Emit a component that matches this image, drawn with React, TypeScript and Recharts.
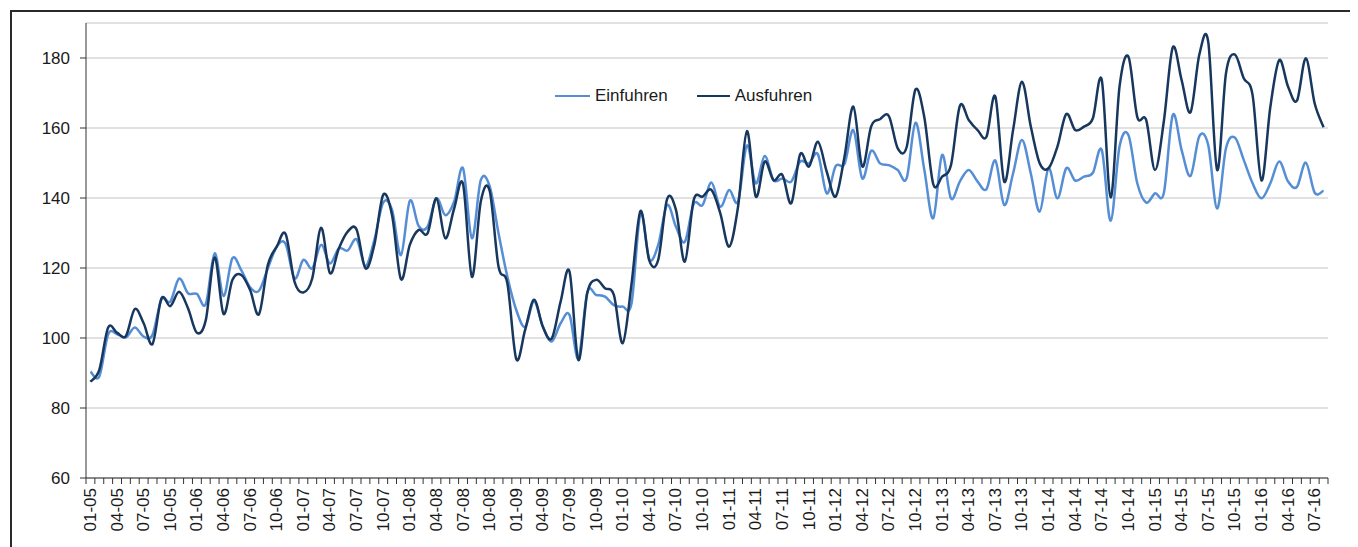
import React from 'react';
import { LineChart, Line, XAxis, YAxis, CartesianGrid } from 'recharts';

// monthly index values, 01-05 .. 08-16
const einfuhren = [
  90.4, 89, 101.1, 101.1, 100.2, 103, 100.4, 100.9, 111, 110.4, 117, 112.8,
  112.6, 109.7, 124.2, 112, 122.8, 119.4, 114.5, 113.5, 119.9, 126.1, 126.9, 117,
  122.3, 119.9, 126.6, 121.3, 125.6, 125, 128.2, 120.6, 128, 138.7, 136.6, 123.7,
  139.2, 132, 131.8, 139.9, 135.1, 139, 148.5, 128.5, 145.1, 143.4, 129.9, 117.5,
  108, 103.2, 110.4, 103.2, 99, 104.2, 106.6, 94.2, 113, 112.3, 111.8, 109.4,
  109, 110, 135.6, 122.5, 126.6, 138, 131.8, 127.5, 138.3, 138, 144.4, 137.5,
  142.3, 139, 155, 144.2, 152, 145.1, 145.6, 144.7, 150.4, 149.9, 152.5, 141.3,
  149.1, 149.7, 159.4, 145.6, 153.5, 149.9, 149.4, 148, 145.6, 161.5, 148, 134.2,
  152.3, 139.9, 144.7, 148, 144.7, 142.5, 150.7, 138, 147, 156.6, 147, 136.1,
  148.5, 139.9, 148.5, 145, 146.1, 147.2, 153.7, 133.5, 154.7, 158, 144.2, 138.7,
  141.3, 141.5, 163.7, 153.7, 146.3, 157.7, 155.1, 137, 154.2, 157.3, 150.9, 144.2,
  139.9, 144.2, 150.4, 144.7, 143.2, 150.1, 141.5, 142.1,
];

const ausfuhren = [
  87.5, 90.9, 103, 101.5, 100.6, 108.3, 104.2, 98.3, 111.3, 109.1, 113.2, 108.5,
  101.5, 105.1, 123, 106.9, 116.6, 118, 113.7, 106.8, 120.9, 126.1, 129.7, 116.1,
  113, 117, 131.5, 118.5, 125.6, 130.4, 131, 119.9, 126.6, 140.9, 135.1, 116.8,
  126.6, 130.9, 129.9, 139.9, 128.5, 137, 144, 117.5, 139, 142.1, 120.4, 115.6,
  94, 102.3, 110.9, 103.2, 99.9, 110.4, 119, 93.7, 112.8, 116.6, 114.2, 112.3,
  98.5, 115.6, 136.3, 122.1, 122.3, 139.7, 136.6, 121.8, 139.4, 140.4, 142.3, 135.6,
  126.1, 137.5, 159.1, 140.4, 150.4, 145.1, 146.6, 138.5, 152.5, 149, 156.1, 147.5,
  140.4, 151.8, 166.1, 149, 160.4, 162.5, 163.4, 154.2, 154.5, 171, 163, 144,
  146.1, 149.4, 166.3, 162.3, 159.4, 157.5, 169, 144.7, 159.4, 173.2, 160.4, 149.9,
  148.5, 154.7, 164, 159.4, 160.4, 162.8, 173.7, 140.2, 171.8, 180.4, 163.2, 162.3,
  148, 162, 183, 173.7, 164.5, 181, 184.6, 148, 175.6, 181, 174.2, 169.4,
  145, 166, 179.4, 171.8, 167.8, 179.9, 167, 160.2,
];

// one label every third month
const tickLabels = [
  '01-05', '04-05', '07-05', '10-05', '01-06', '04-06', '07-06', '10-06',
  '01-07', '04-07', '07-07', '10-07', '01-08', '04-08', '07-08', '10-08',
  '01-09', '04-09', '07-09', '10-09', '01-10', '04-10', '07-10', '10-10',
  '01-11', '04-11', '07-11', '10-11', '01-12', '04-12', '07-12', '10-12',
  '01-13', '04-13', '07-13', '10-13', '01-14', '04-14', '07-14', '10-14',
  '01-15', '04-15', '07-15', '10-15', '01-16', '04-16', '07-16',
];

const yTicks = [60, 80, 100, 120, 140, 160, 180];

const W = 1350;
const H = 539;
const margin = { top: 15, right: 30, left: 0, bottom: 0 };
const yAxisWidth = 78;
const nMonths = einfuhren.length;
const halfStep = (W - margin.left - margin.right - yAxisWidth) / nMonths / 2;

const data = einfuhren.map((v, i) => ({ x: i + 0.5, einfuhren: v, ausfuhren: ausfuhren[i] }));
const monthTicks = Array.from({ length: nMonths + 1 }, (_, i) => i);

const font = '"Liberation Sans", Arial, sans-serif';

// Excel-like smoothed line (Catmull-Rom through the points)
const excelSmooth = (context: any) => {
  let pts: number[][] = [];
  return {
    areaStart() {},
    areaEnd() {},
    lineStart() {
      pts = [];
    },
    point(x: number, y: number) {
      pts.push([+x, +y]);
    },
    lineEnd() {
      const n = pts.length;
      if (!n) return;
      context.moveTo(pts[0][0], pts[0][1]);
      for (let i = 0; i < n - 1; i++) {
        const p0 = pts[Math.max(i - 1, 0)];
        const p1 = pts[i];
        const p2 = pts[i + 1];
        const p3 = pts[Math.min(i + 2, n - 1)];
        context.bezierCurveTo(
          p1[0] + (p2[0] - p0[0]) / 6,
          p1[1] + (p2[1] - p0[1]) / 6,
          p2[0] - (p3[0] - p1[0]) / 6,
          p2[1] - (p3[1] - p1[1]) / 6,
          p2[0],
          p2[1]
        );
      }
    },
  };
};

const MonthTick = (props: any) => {
  const { x, y, payload } = props;
  const v = payload.value;
  if (v % 3 !== 0 || v / 3 >= tickLabels.length) return <g />;
  const cx = x + halfStep;
  const ty = y + 2;
  return (
    <text
      x={cx}
      y={ty}
      transform={`rotate(-90, ${cx}, ${ty})`}
      textAnchor="end"
      dominantBaseline="central"
      fontFamily={font}
      fontSize={17}
      fill="#1a1a1a"
    >
      {tickLabels[v / 3]}
    </text>
  );
};

const LegendBox = () => (
  <div
    style={{
      position: 'absolute',
      left: 547,
      top: 78,
      display: 'flex',
      alignItems: 'center',
      fontFamily: font,
      fontSize: 17,
      color: '#1a1a1a',
      lineHeight: '20px',
    }}
  >
    <span style={{ display: 'inline-block', width: 35, borderTop: '2.5px solid #558ED5', marginRight: 5 }} />
    <span>Einfuhren</span>
    <span style={{ display: 'inline-block', width: 33, borderTop: '2.5px solid #17375E', marginLeft: 29, marginRight: 5 }} />
    <span>Ausfuhren</span>
  </div>
);

const App = () => {
  return (
    <div style={{ position: 'relative', width: W, height: H }}>
      <div
        style={{
          position: 'absolute',
          left: 2,
          top: 2,
          width: W,
          height: H + 10,
          borderLeft: '2px solid #2a2a2a',
          borderTop: '2px solid #2a2a2a',
        }}
      />
      <LineChart width={W} height={H} data={data} margin={margin}>
        <CartesianGrid vertical={false} stroke="#c4c4c4" strokeWidth={1.2} />
        <XAxis
          type="number"
          dataKey="x"
          domain={[0, nMonths]}
          ticks={monthTicks}
          interval={0}
          height={69}
          tickSize={6}
          tick={<MonthTick />}
          axisLine={{ stroke: '#333' }}
          tickLine={{ stroke: '#333' }}
        />
        <YAxis
          domain={[60, 190]}
          ticks={yTicks}
          width={yAxisWidth}
          tickSize={6}
          tickMargin={10}
          axisLine={{ stroke: '#333' }}
          tickLine={{ stroke: '#333' }}
          tick={{ fontFamily: font, fontSize: 17, fill: '#1a1a1a' }}
        />
        <Line
          dataKey="einfuhren"
          type={excelSmooth as any}
          stroke="#558ED5"
          strokeWidth={2.5}
          dot={false}
          activeDot={false}
          isAnimationActive={false}
        />
        <Line
          dataKey="ausfuhren"
          type={excelSmooth as any}
          stroke="#17375E"
          strokeWidth={2.5}
          dot={false}
          activeDot={false}
          isAnimationActive={false}
        />
      </LineChart>
      <LegendBox />
    </div>
  );
};

export default App;
